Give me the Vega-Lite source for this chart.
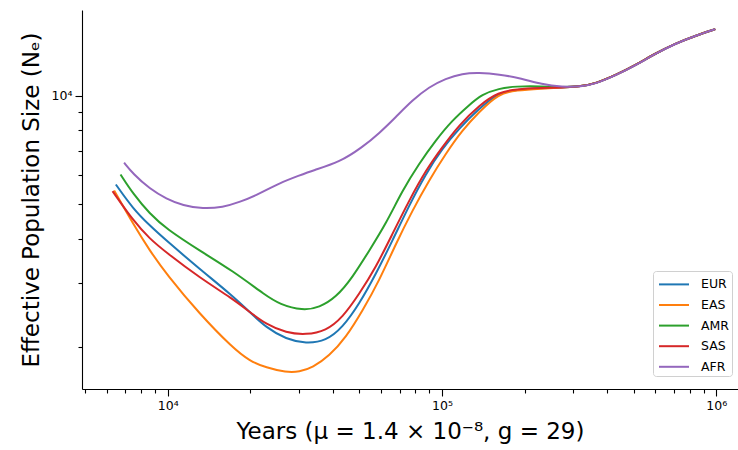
{
  "$schema": "https://vega.github.io/schema/vega-lite/v6.json",
  "width": 656,
  "height": 379,
  "autosize": {"type": "none"},
  "padding": {"left": 82, "top": 10, "right": 0, "bottom": 61},
  "background": "white",
  "config": {
    "font": "DejaVu Sans",
    "view": {"stroke": null},
    "axis": {
      "grid": false,
      "domainColor": "black",
      "domainWidth": 1.1,
      "tickColor": "black",
      "tickWidth": 1.1,
      "labelColor": "black",
      "labelFont": "DejaVu Sans",
      "labelFontSize": 12.5,
      "labelOverlap": false,
      "labelFlush": false,
      "titleColor": "black",
      "titleFont": "DejaVu Sans",
      "titleFontSize": 23,
      "titleFontWeight": "normal"
    },
    "legend": {
      "labelFont": "DejaVu Sans",
      "labelFontSize": 12.5,
      "labelColor": "black"
    }
  },
  "data": {
    "values": [
      {"pop": "EUR", "years": 6470, "ne": 5657},
      {"pop": "EUR", "years": 7479, "ne": 4840},
      {"pop": "EUR", "years": 8602, "ne": 4347},
      {"pop": "EUR", "years": 9892, "ne": 3948},
      {"pop": "EUR", "years": 13075, "ne": 3292},
      {"pop": "EUR", "years": 17231, "ne": 2773},
      {"pop": "EUR", "years": 19870, "ne": 2502},
      {"pop": "EUR", "years": 22850, "ne": 2262},
      {"pop": "EUR", "years": 27020, "ne": 2100},
      {"pop": "EUR", "years": 31940, "ne": 2041},
      {"pop": "EUR", "years": 37770, "ne": 2077},
      {"pop": "EUR", "years": 43390, "ne": 2262},
      {"pop": "EUR", "years": 49900, "ne": 2629},
      {"pop": "EUR", "years": 57400, "ne": 3187},
      {"pop": "EUR", "years": 65970, "ne": 3948},
      {"pop": "EUR", "years": 75860, "ne": 4943},
      {"pop": "EUR", "years": 87240, "ne": 6059},
      {"pop": "EUR", "years": 100250, "ne": 7115},
      {"pop": "EUR", "years": 115300, "ne": 8091},
      {"pop": "EUR", "years": 136350, "ne": 9200},
      {"pop": "EUR", "years": 161180, "ne": 10181},
      {"pop": "EUR", "years": 185800, "ne": 10380},
      {"pop": "EUR", "years": 231010, "ne": 10494},
      {"pop": "EUR", "years": 273100, "ne": 10527},
      {"pop": "EUR", "years": 322880, "ne": 10615},
      {"pop": "EUR", "years": 363100, "ne": 10801},
      {"pop": "EUR", "years": 429400, "ne": 11392},
      {"pop": "EUR", "years": 507600, "ne": 12149},
      {"pop": "EUR", "years": 600100, "ne": 13095},
      {"pop": "EUR", "years": 709500, "ne": 13964},
      {"pop": "EUR", "years": 838800, "ne": 14663},
      {"pop": "EUR", "years": 991600, "ne": 15308},

      {"pop": "EAS", "years": 6378, "ne": 5443},
      {"pop": "EAS", "years": 7479, "ne": 4395},
      {"pop": "EAS", "years": 8602, "ne": 3702},
      {"pop": "EAS", "years": 9892, "ne": 3187},
      {"pop": "EAS", "years": 13075, "ne": 2466},
      {"pop": "EAS", "years": 17231, "ne": 1989},
      {"pop": "EAS", "years": 19870, "ne": 1827},
      {"pop": "EAS", "years": 22850, "ne": 1750},
      {"pop": "EAS", "years": 27020, "ne": 1697},
      {"pop": "EAS", "years": 30200, "ne": 1702},
      {"pop": "EAS", "years": 33760, "ne": 1750},
      {"pop": "EAS", "years": 38820, "ne": 1886},
      {"pop": "EAS", "years": 44640, "ne": 2122},
      {"pop": "EAS", "years": 51310, "ne": 2519},
      {"pop": "EAS", "years": 59020, "ne": 3053},
      {"pop": "EAS", "years": 67870, "ne": 3866},
      {"pop": "EAS", "years": 77980, "ne": 4787},
      {"pop": "EAS", "years": 89700, "ne": 5805},
      {"pop": "EAS", "years": 103150, "ne": 6890},
      {"pop": "EAS", "years": 118530, "ne": 8003},
      {"pop": "EAS", "years": 136350, "ne": 9000},
      {"pop": "EAS", "years": 161180, "ne": 10129},
      {"pop": "EAS", "years": 185800, "ne": 10346},
      {"pop": "EAS", "years": 231010, "ne": 10460},
      {"pop": "EAS", "years": 273100, "ne": 10527},
      {"pop": "EAS", "years": 322880, "ne": 10615},
      {"pop": "EAS", "years": 363100, "ne": 10801},
      {"pop": "EAS", "years": 429400, "ne": 11392},
      {"pop": "EAS", "years": 507600, "ne": 12149},
      {"pop": "EAS", "years": 600100, "ne": 13095},
      {"pop": "EAS", "years": 709500, "ne": 13964},
      {"pop": "EAS", "years": 838800, "ne": 14663},
      {"pop": "EAS", "years": 991600, "ne": 15308},

      {"pop": "AMR", "years": 6730, "ne": 6031},
      {"pop": "AMR", "years": 7479, "ne": 5328},
      {"pop": "AMR", "years": 8602, "ne": 4686},
      {"pop": "AMR", "years": 9892, "ne": 4256},
      {"pop": "AMR", "years": 13075, "ne": 3702},
      {"pop": "AMR", "years": 17231, "ne": 3256},
      {"pop": "AMR", "years": 22850, "ne": 2773},
      {"pop": "AMR", "years": 25550, "ne": 2629},
      {"pop": "AMR", "years": 31050, "ne": 2519},
      {"pop": "AMR", "years": 35710, "ne": 2573},
      {"pop": "AMR", "years": 41060, "ne": 2743},
      {"pop": "AMR", "years": 47180, "ne": 3119},
      {"pop": "AMR", "years": 54270, "ne": 3702},
      {"pop": "AMR", "years": 62420, "ne": 4395},
      {"pop": "AMR", "years": 71730, "ne": 5443},
      {"pop": "AMR", "years": 82480, "ne": 6462},
      {"pop": "AMR", "years": 94870, "ne": 7505},
      {"pop": "AMR", "years": 109010, "ne": 8533},
      {"pop": "AMR", "years": 125370, "ne": 9396},
      {"pop": "AMR", "years": 139820, "ne": 10080},
      {"pop": "AMR", "years": 161180, "ne": 10460},
      {"pop": "AMR", "years": 185800, "ne": 10615},
      {"pop": "AMR", "years": 231010, "ne": 10615},
      {"pop": "AMR", "years": 273100, "ne": 10527},
      {"pop": "AMR", "years": 322880, "ne": 10615},
      {"pop": "AMR", "years": 363100, "ne": 10801},
      {"pop": "AMR", "years": 429400, "ne": 11392},
      {"pop": "AMR", "years": 507600, "ne": 12149},
      {"pop": "AMR", "years": 600100, "ne": 13095},
      {"pop": "AMR", "years": 709500, "ne": 13964},
      {"pop": "AMR", "years": 838800, "ne": 14663},
      {"pop": "AMR", "years": 991600, "ne": 15308},

      {"pop": "SAS", "years": 6294, "ne": 5419},
      {"pop": "SAS", "years": 7479, "ne": 4489},
      {"pop": "SAS", "years": 8602, "ne": 3992},
      {"pop": "SAS", "years": 9892, "ne": 3656},
      {"pop": "SAS", "years": 13075, "ne": 3113},
      {"pop": "SAS", "years": 17231, "ne": 2720},
      {"pop": "SAS", "years": 19870, "ne": 2502},
      {"pop": "SAS", "years": 22850, "ne": 2309},
      {"pop": "SAS", "years": 27020, "ne": 2187},
      {"pop": "SAS", "years": 31940, "ne": 2159},
      {"pop": "SAS", "years": 37770, "ne": 2215},
      {"pop": "SAS", "years": 43390, "ne": 2412},
      {"pop": "SAS", "years": 49900, "ne": 2804},
      {"pop": "SAS", "years": 57400, "ne": 3326},
      {"pop": "SAS", "years": 65970, "ne": 4122},
      {"pop": "SAS", "years": 75860, "ne": 5103},
      {"pop": "SAS", "years": 87240, "ne": 6189},
      {"pop": "SAS", "years": 100250, "ne": 7188},
      {"pop": "SAS", "years": 115300, "ne": 8265},
      {"pop": "SAS", "years": 136350, "ne": 9396},
      {"pop": "SAS", "years": 161180, "ne": 10234},
      {"pop": "SAS", "years": 185800, "ne": 10413},
      {"pop": "SAS", "years": 231010, "ne": 10500},
      {"pop": "SAS", "years": 273100, "ne": 10527},
      {"pop": "SAS", "years": 322880, "ne": 10615},
      {"pop": "SAS", "years": 363100, "ne": 10801},
      {"pop": "SAS", "years": 429400, "ne": 11392},
      {"pop": "SAS", "years": 507600, "ne": 12149},
      {"pop": "SAS", "years": 600100, "ne": 13095},
      {"pop": "SAS", "years": 709500, "ne": 13964},
      {"pop": "SAS", "years": 838800, "ne": 14663},
      {"pop": "SAS", "years": 991600, "ne": 15308},

      {"pop": "AFR", "years": 6936, "ne": 6504},
      {"pop": "AFR", "years": 7479, "ne": 6059},
      {"pop": "AFR", "years": 8602, "ne": 5501},
      {"pop": "AFR", "years": 9892, "ne": 5160},
      {"pop": "AFR", "years": 11367, "ne": 4943},
      {"pop": "AFR", "years": 13441, "ne": 4840},
      {"pop": "AFR", "years": 15889, "ne": 4890},
      {"pop": "AFR", "years": 18272, "ne": 5049},
      {"pop": "AFR", "years": 21604, "ne": 5328},
      {"pop": "AFR", "years": 25550, "ne": 5710},
      {"pop": "AFR", "years": 30200, "ne": 5993},
      {"pop": "AFR", "years": 33760, "ne": 6189},
      {"pop": "AFR", "years": 42210, "ne": 6516},
      {"pop": "AFR", "years": 51310, "ne": 7188},
      {"pop": "AFR", "years": 59020, "ne": 7850},
      {"pop": "AFR", "years": 67870, "ne": 8715},
      {"pop": "AFR", "years": 77980, "ne": 9703},
      {"pop": "AFR", "years": 89700, "ne": 10568},
      {"pop": "AFR", "years": 103150, "ne": 11153},
      {"pop": "AFR", "years": 118530, "ne": 11517},
      {"pop": "AFR", "years": 136350, "ne": 11576},
      {"pop": "AFR", "years": 161180, "ne": 11466},
      {"pop": "AFR", "years": 195370, "ne": 11153},
      {"pop": "AFR", "years": 231010, "ne": 10753},
      {"pop": "AFR", "years": 273100, "ne": 10568},
      {"pop": "AFR", "years": 322880, "ne": 10582},
      {"pop": "AFR", "years": 363100, "ne": 10787},
      {"pop": "AFR", "years": 429400, "ne": 11371},
      {"pop": "AFR", "years": 507600, "ne": 12123},
      {"pop": "AFR", "years": 600100, "ne": 13079},
      {"pop": "AFR", "years": 709500, "ne": 13946},
      {"pop": "AFR", "years": 838800, "ne": 14663},
      {"pop": "AFR", "years": 991600, "ne": 15308}
    ]
  },
  "mark": {"type": "line", "strokeWidth": 2, "interpolate": "basis", "clip": true},
  "encoding": {
    "x": {
      "field": "years",
      "type": "quantitative",
      "scale": {"type": "log", "domain": [4870, 1200000], "nice": false},
      "axis": {
        "title": "Years (μ = 1.4 × 10⁻⁸, g = 29)",
        "values": [5000, 6000, 7000, 8000, 9000, 10000, 20000, 30000, 40000, 50000, 60000, 70000, 80000, 90000, 100000, 200000, 300000, 400000, 500000, 600000, 700000, 800000, 900000, 1000000],
        "labelExpr": "datum.value == 10000 ? '10⁴' : datum.value == 100000 ? '10⁵' : datum.value == 1000000 ? '10⁶' : ''",
        "tickSize": {"condition": {"test": "datum.value == 10000 || datum.value == 100000 || datum.value == 1000000", "value": 7}, "value": 4},
        "labelPadding": 3,
        "titlePadding": 9
      }
    },
    "y": {
      "field": "ne",
      "type": "quantitative",
      "scale": {"type": "log", "domain": [1526, 17300], "nice": false},
      "axis": {
        "title": "Effective Population Size (Nₑ)",
        "values": [2000, 3000, 4000, 5000, 6000, 7000, 8000, 9000, 10000],
        "labelExpr": "datum.value == 10000 ? '10⁴' : ''",
        "tickSize": {"condition": {"test": "datum.value == 10000", "value": 7}, "value": 4},
        "labelPadding": 3,
        "titlePadding": 8
      }
    },
    "color": {
      "field": "pop",
      "type": "nominal",
      "sort": ["EUR", "EAS", "AMR", "SAS", "AFR"],
      "scale": {"domain": ["EUR", "EAS", "AMR", "SAS", "AFR"], "range": ["#1f77b4", "#ff7f0e", "#2ca02c", "#d62728", "#9467bd"]},
      "legend": {
        "title": null,
        "orient": "none",
        "legendX": 571,
        "legendY": 261,
        "symbolType": "M-1.5,0H1.5",
        "symbolSize": 400,
        "symbolStrokeWidth": 2,
        "symbolOffset": 7.6,
        "rowPadding": 2.6,
        "labelOffset": 16,
        "padding": 2.4,
        "strokeColor": "#d0d0d0",
        "fillColor": "white",
        "cornerRadius": 3
      }
    }
  }
}
